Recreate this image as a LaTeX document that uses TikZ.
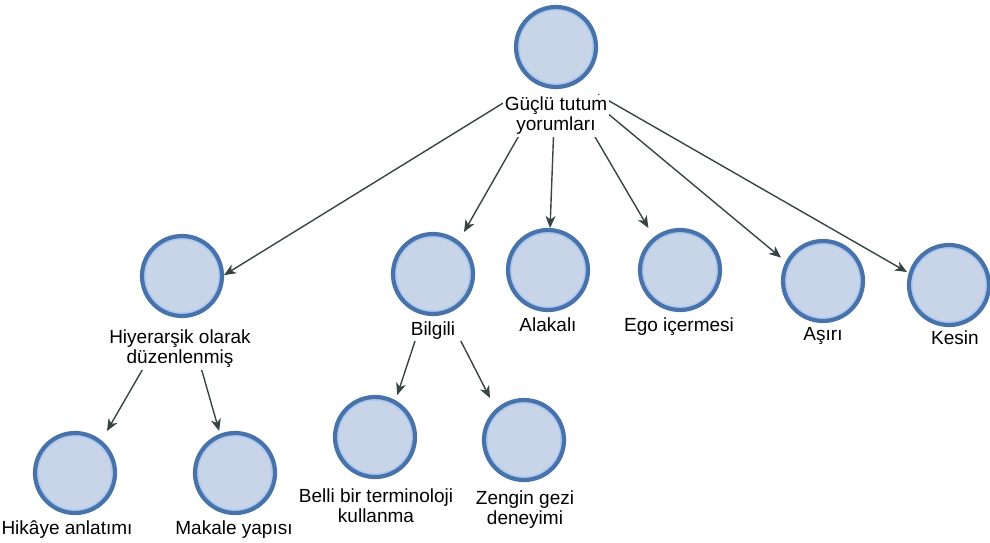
\documentclass[tikz,border=0pt]{standalone}
\usepackage{fontspec}
\setmainfont{Liberation Sans}
\usetikzlibrary{arrows.meta}

\definecolor{cfill}{RGB}{200,212,232}
\definecolor{cborder}{RGB}{72,115,170}
\definecolor{cring}{RGB}{172,200,240}
\definecolor{conncol}{RGB}{55,68,68}

\tikzset{
  concept/.style={circle, minimum size=80pt, inner sep=0pt, line width=4.2pt,
    draw=cborder, fill=cfill,
    path picture={\draw[cring, line width=1.6pt]
      (path picture bounding box.center) circle (37.1pt);}},
  % invisible box spanning a circle and its caption; connectors attach to it
  grp/.style={rectangle, minimum width=84pt, inner sep=0pt, outer sep=0pt},
  caption/.style={anchor=north, yshift=16.6pt, align=center, fill=white,
    inner xsep=2pt, inner ysep=2pt,
    font=\fontsize{19}{20.5}\selectfont},
  conn/.style={draw=conncol, line width=1.4pt,
    -{Stealth[length=12pt, width=10pt, inset=3.5pt]}},
}

\begin{document}
\begin{tikzpicture}[x=1pt, y=-1pt]
\useasboundingbox (0,0) rectangle (990,542);

% concept boxes (circle + caption)
\node[grp, minimum height=131pt] (root)   at (556,70.5)  {};
\node[grp, minimum height=134pt] (hier)   at (182,301)   {};
\node[grp, minimum height=111pt] (hik)    at (75,486.5)  {};
\node[grp, minimum height=111pt] (mak)    at (235,486.5) {};
\node[grp, minimum height=135pt] (belli)  at (375,462.5) {};
\node[grp, minimum height=133pt] (zengin) at (524,464.5) {};
\node[grp, minimum height=109pt] (bilgi)  at (433,286.5) {};
\node[grp, minimum height=108pt] (alaka)  at (548,282)   {};
\node[grp, minimum height=108pt] (ego)    at (680,282)   {};
\node[grp, minimum height=107pt] (asiri)  at (823,292.5) {};
\node[grp, minimum height=106pt] (kesin)  at (949,296)   {};

% connectors
\draw[conn] (root) -- (hier);
\draw[conn] (root) -- (bilgi);
\draw[conn] (root) -- (alaka);
\draw[conn] (root) -- (ego);
\draw[conn] (root) -- (asiri);
\draw[conn] (root) -- (kesin);
\draw[conn] (hier) -- (hik);
\draw[conn] (hier) -- (mak);
\draw[conn] (bilgi) -- (belli);
\draw[conn] (bilgi) -- (zengin);

% circles
\node[concept] (root-c)   at (556,47)  {};
\node[concept] (hier-c)   at (182,276) {};
\node[concept] (hik-c)    at (75,473)  {};
\node[concept] (mak-c)    at (235,473) {};
\node[concept] (belli-c)  at (375,437) {};
\node[concept] (zengin-c) at (524,440) {};
\node[concept] (bilgi-c)  at (433,274) {};
\node[concept] (alaka-c)  at (548,270) {};
\node[concept] (ego-c)    at (680,270) {};
\node[concept] (asiri-c)  at (823,281) {};
\node[concept] (kesin-c)  at (949,285) {};

% captions (placed by first baseline)
\node[caption] (root-t)   at (556,111) {Güçlü tutum\\yorumları};
\node[caption] (hier-t)   at (180,344) {Hiyerarşik olarak\\düzenlenmiş};
\node[caption] (hik-t)    at (67,535)  {Hikâye anlatımı};
\node[caption] (mak-t)    at (234,535) {Makale yapısı};
\node[caption] (belli-t)  at (376,503) {Belli bir terminoloji\\kullanma};
\node[caption] (zengin-t) at (525,505) {Zengin gezi\\deneyimi};
\node[caption] (bilgi-t)  at (433,336) {Bilgili};
\node[caption] (alaka-t)  at (548,332) {Alakalı};
\node[caption] (ego-t)    at (679,332) {Ego içermesi};
\node[caption] (asiri-t)  at (823,342) {Aşırı};
\node[caption] (kesin-t)  at (955,345) {Kesin};
\end{tikzpicture}
\end{document}
